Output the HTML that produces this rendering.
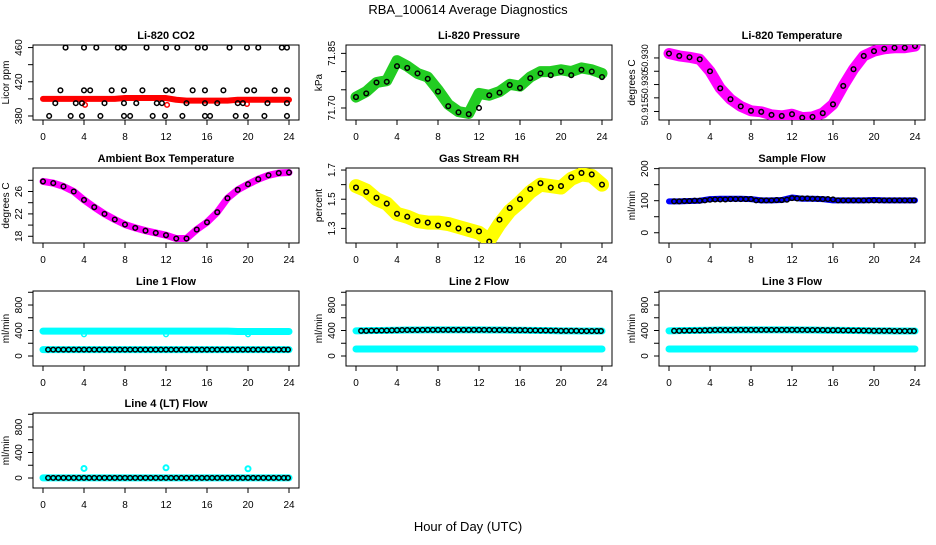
<!DOCTYPE html>
<html><head><meta charset="utf-8">
<style>
html,body{margin:0;padding:0;background:#fff;}
svg text{font-family:"Liberation Sans",sans-serif;fill:#000;}
</style></head>
<body>
<svg id="chart" width="936" height="540" viewBox="0 0 936 540" xmlns="http://www.w3.org/2000/svg">
<rect width="936" height="540" fill="#fff"/>
<text x="468" y="14" font-size="13" text-anchor="middle">RBA_100614  Average Diagnostics</text>
<text x="468" y="531" font-size="13" text-anchor="middle">Hour of Day (UTC)</text>
</svg>
<script>
// ---- data ----
const HOURS = [0,1,2,3,4,5,6,7,8,9,10,11,12,13,14,15,16,17,18,19,20,21,22,23,24];
const HALF = [0.5,1,1.5,2,2.5,3,3.5,4,4.5,5,5.5,6,6.5,7,7.5,8,8.5,9,9.5,10,10.5,11,11.5,12,12.5,13,13.5,14,14.5,15,15.5,16,16.5,17,17.5,18,18.5,19,19.5,20,20.5,21,21.5,22,22.5,23,23.5,23.9];

// CO2
const co2Red = [400,400,400,400,400,400,400,400,401,401,401,401,401,399,398,398,398,398,398,399,399,399,399,399,399];
const co2PtsX = [2.2,4,5.2,7.3,7.9,10.1,12,13.1,15.1,15.8,18.2,19.9,21,23.3,23.8, 1.7,4,4.6,6.7,7.9,9.7,12,12.6,14.6,15.8,17.6,19.9,20.6,22.6,23.8, 1.2,3.2,3.8,6.0,7.9,9.1,11.1,11.6,14.0,15.8,17.0,19.0,19.5,21.9,23.8, 0.6,2.7,3.8,5.6,7.9,8.5,10.7,11.9,13.6,15.8,16.3,18.8,19.8,21.6,23.8];
const co2PtsY = [460,460,460,460,460,460,460,460,460,460,460,460,460,460,460, 410,410,410,410,410,410,410,410,410,410,410,410,410,410,410, 395,395,395,395,395,395,395,395,395,395,395,395,395,395,395, 380,380,380,380,380,380,380,380,380,380,380,380,380,380,380];
const co2RedOutX = [4.1,12.1,19.9];
const co2RedOutY = [393,393,394];

// Pressure
const pressBand = [71.73,71.745,71.77,71.775,71.83,71.815,71.795,71.785,71.75,71.71,71.69,71.685,71.74,71.735,71.745,71.765,71.76,71.785,71.80,71.80,71.805,71.80,71.81,71.805,71.795];
const pressPts = [71.73,71.74,71.77,71.772,71.815,71.81,71.795,71.78,71.745,71.705,71.688,71.683,71.70,71.735,71.742,71.763,71.755,71.782,71.795,71.79,71.80,71.79,71.805,71.80,71.785];

// Li-820 temperature
const tempBand = [50.9320,50.9313,50.9309,50.9303,50.9268,50.9218,50.9186,50.9165,50.9152,50.9149,50.9140,50.9137,50.9142,50.9132,50.9134,50.9145,50.9171,50.9225,50.9274,50.9313,50.9327,50.9334,50.9337,50.9337,50.9342];

// Ambient box temperature
const ambBand = [27.8,27.5,26.9,26.0,24.5,23.2,22.0,21.0,20.1,19.5,19.0,18.6,18.2,17.6,17.6,19.2,20.5,22.3,24.8,26.3,27.3,28.2,28.9,29.3,29.4];

// Gas stream RH
const rhBand = [1.59,1.56,1.50,1.47,1.40,1.38,1.35,1.34,1.34,1.33,1.31,1.29,1.27,1.22,1.33,1.42,1.48,1.55,1.60,1.59,1.58,1.64,1.67,1.66,1.60];
const rhPts = [1.58,1.55,1.51,1.47,1.40,1.38,1.35,1.34,1.32,1.33,1.30,1.29,1.28,1.21,1.36,1.44,1.50,1.57,1.61,1.58,1.59,1.65,1.68,1.67,1.60];

// Sample flow
const sampleBand = [98,98,99,100,105,106,106,106,105,101,101,102,110,106,106,105,101,101,101,101,102,101,101,101,101];
const samplePts = [98,98,99,99,100,100,101,103,104,104,104,105,105,105,105,105,101,101,101,101,102,102,103,108,107,107,107,106,106,105,105,104,101,101,101,101,101,101,101,101,101,101,101,101,101,101,101,101];

// Line flows
const line1Upper = [390,390,390,390,390,390,390,390,390,390,390,390,390,390,390,390,390,390,390,385,385,385,385,385,385];
const line1Lower = [100,100,100,100,100,100,100,100,100,100,100,100,100,100,100,100,100,100,100,100,100,100,100,100,100];
const line1Pts = [100,100,100,100,100,100,100,100,100,100,100,100,100,100,100,100,100,100,100,100,100,100,100,100,100,100,100,100,100,100,100,100,100,100,100,100,100,100,100,100,100,100,100,100,100,100,100,100];
const line1OutX = [4,12,20];
const line1OutY = [340,340,340];

const line2Upper = [395,398,400,402,405,408,408,410,410,410,410,410,410,408,408,405,405,402,400,398,395,395,392,392,392];
const line2Lower = [110,110,110,110,110,110,110,110,110,110,110,110,110,110,110,110,110,110,110,110,110,110,110,110,110];
const line2Pts = [395,395,398,398,400,400,403,405,408,408,408,408,410,410,410,410,410,410,410,410,410,410,410,410,410,410,408,408,408,408,405,405,405,402,402,400,400,398,398,395,395,395,395,392,392,392,392,392];

const line3Upper = [395,398,400,402,405,408,408,410,410,410,410,410,410,408,408,405,405,402,400,398,395,395,392,392,392];
const line3Lower = [110,110,110,110,110,110,110,110,110,110,110,110,110,110,110,110,110,110,110,110,110,110,110,110,110];
const line3Pts = [395,395,398,398,400,400,403,405,408,408,408,408,410,410,410,410,410,410,410,410,410,410,410,410,410,410,408,408,408,408,405,405,405,402,402,400,400,398,398,395,395,395,395,392,392,392,392,392];

const line4Band = [2,2,2,2,2,2,2,2,2,2,2,2,2,2,2,2,2,2,2,2,2,2,2,2,2];
const line4Pts = [2,2,2,2,2,2,2,2,2,2,2,2,2,2,2,2,2,2,2,2,2,2,2,2,2,2,2,2,2,2,2,2,2,2,2,2,2,2,2,2,2,2,2,2,2,2,2,2];
const line4OutX = [4,12,20];
const line4OutY = [150,160,145];

// ---- layout ----
const NS = "http://www.w3.org/2000/svg";
const svg = document.getElementById('chart');
const COLS = [33,346,659], ROWS = [45,168,291,413], W = 266, H = 75;

function mk(tag, attrs, parent){
  const e = document.createElementNS(NS, tag);
  for (const k in attrs) e.setAttribute(k, attrs[k]);
  (parent||svg).appendChild(e);
  return e;
}

function panel(col,row,title,ylab,ymin,ymax,ticks,labels,lfs){
  const L = COLS[col], T = ROWS[row];
  const g = mk('g',{});
  
  
  const xs = t => L + 10 + t*10.25;
  const ys = v => T + H - (v - ymin)/(ymax - ymin)*H;
  const tt = mk('text',{x:L+W/2,y:T-6,'font-size':11,'font-weight':'bold','text-anchor':'middle'},g);
  tt.textContent = title;
  
  
  const box = mk('rect',{x:L,y:T,width:W,height:H,fill:'none',stroke:'#000','stroke-width':1},g);
  
  
  const xt = [0,4,8,12,16,20,24];
  xt.forEach(t=>{
    mk('line',{x1:xs(t),x2:xs(t),y1:T+H,y2:T+H+5,stroke:'#000'},g);
    const lb = mk('text',{x:xs(t),y:T+H+20,'font-size':10,'text-anchor':'middle'},g);
    lb.textContent = t;
    
    
  });
  ticks.forEach((v,i)=>{
    mk('line',{x1:L-5,x2:L,y1:ys(v),y2:ys(v),stroke:'#000'},g);
    if (labels[i]){
      const lb = mk('text',{x:0,y:0,'font-size':lfs||10,'text-anchor':'middle',transform:`translate(${L-11},${ys(v)}) rotate(-90)`},g);
      lb.textContent = labels[i];
      
      
    }
  });
  const yl = mk('text',{x:0,y:0,'font-size':10,'text-anchor':'middle',transform:`translate(${L-24},${T+H/2}) rotate(-90)`},g);
  yl.textContent = ylab;
  
  
  const clip = 'clip'+col+row;
  const cp = mk('clipPath',{id:clip},g);
  mk('rect',{x:L,y:T,width:W,height:H},cp);
  const plot = mk('g',{'clip-path':`url(#${clip})`},g);
  return {g:plot,xs,ys};
}

function band(p,xsArr,vals,color,width,name){
  const pts = xsArr.map((t,i)=>p.xs(t)+','+p.ys(vals[i])).join(' ');
  const e = mk('polyline',{points:pts,fill:'none',stroke:color,'stroke-width':width,'stroke-linejoin':'round','stroke-linecap':'round'},p.g);
  
  
}
function circles(p,xsArr,vals,color,r,sw,name){
  xsArr.forEach((t,i)=>{
    const c = mk('circle',{cx:p.xs(t),cy:p.ys(vals[i]),r:r,fill:'none',stroke:color,'stroke-width':sw},p.g);
    
    
  });
}
const CY = '#00ffff';

// 1 CO2
let p = panel(0,0,'Li-820 CO2','Licor ppm',375.3,463,[380,400,420,440,460],['380','','420','','460']);
band(p,HOURS,co2Red,'#ff0000',6,'co2-series');
circles(p,co2RedOutX,co2RedOutY,'#ff0000',2.3,1.5,'co2-outlier');
circles(p,co2PtsX,co2PtsY,'#000',2.3,1.5,'co2-point');

// 2 Pressure
p = panel(1,0,'Li-820 Pressure','kPa',71.667,71.873,[71.70,71.75,71.80,71.85],['71.70','','','71.85']);
band(p,HOURS,pressBand,'#22cc22',11,'pressure-series');
circles(p,HOURS,pressPts,'#000',2.3,1.5,'pressure-point');

// 3 Temperature
p = panel(2,0,'Li-820 Temperature','degrees C',50.9125,50.9345,[50.9307,50.9268,50.9229,50.9190,50.9150],['50.930','','50.930','','50.915'],9);
band(p,HOURS,tempBand,'#ff00ff',11,'temperature-series');
circles(p,HOURS,tempBand,'#000',2.3,1.5,'temperature-point');

// 4 Ambient
p = panel(0,1,'Ambient Box Temperature','degrees C',16.8,30.2,[18,20,22,24,26,28],['18','','22','','26','']);
band(p,HOURS,ambBand,'#ff00ff',7,'ambient-series');
circles(p,HOURS,ambBand,'#000',2.3,1.5,'ambient-point');

// 5 RH
p = panel(1,1,'Gas Stream RH','percent',1.20,1.714,[1.3,1.4,1.5,1.6,1.7],['1.3','','1.5','','1.7']);
band(p,HOURS,rhBand,'#ffff00',14,'rh-series');
circles(p,HOURS,rhPts,'#000',2.3,1.5,'rh-point');

// 6 Sample flow
p = panel(2,1,'Sample Flow','ml/min',-32,202,[0,50,100,150,200],['0','','100','','200']);
band(p,HOURS,sampleBand,'#0000ff',6,'sample-flow-series');
circles(p,HALF,samplePts,'#000',2.3,1.5,'sample-flow-point');

const FT = [0,200,400,600,800,1000], FL = ['0','','400','','800',''];
// 7 Line 1
p = panel(0,2,'Line 1 Flow','ml/min',-157,1020,FT,FL);
band(p,HOURS,line1Upper,CY,7,'line1-upper-series');
band(p,HOURS,line1Lower,CY,7,'line1-lower-series');
circles(p,line1OutX,line1OutY,CY,2.3,1.5,'line1-outlier');
circles(p,HALF,line1Pts,'#000',2.3,1.5,'line1-point');

// 8 Line 2
p = panel(1,2,'Line 2 Flow','ml/min',-157,1020,FT,FL);
band(p,HOURS,line2Upper,CY,7,'line2-upper-series');
band(p,HOURS,line2Lower,CY,7,'line2-lower-series');
circles(p,HALF,line2Pts,'#000',2.3,1.5,'line2-point');

// 9 Line 3
p = panel(2,2,'Line 3 Flow','ml/min',-157,1020,FT,FL);
band(p,HOURS,line3Upper,CY,7,'line3-upper-series');
band(p,HOURS,line3Lower,CY,7,'line3-lower-series');
circles(p,HALF,line3Pts,'#000',2.3,1.5,'line3-point');

// 10 Line 4
p = panel(0,3,'Line 4 (LT) Flow','ml/min',-157,1020,FT,FL);
band(p,HOURS,line4Band,CY,7,'line4-series');
circles(p,line4OutX,line4OutY,CY,2.5,2,'line4-outlier');
circles(p,HALF,line4Pts,'#000',2.3,1.5,'line4-point');
</script>
</body></html>
